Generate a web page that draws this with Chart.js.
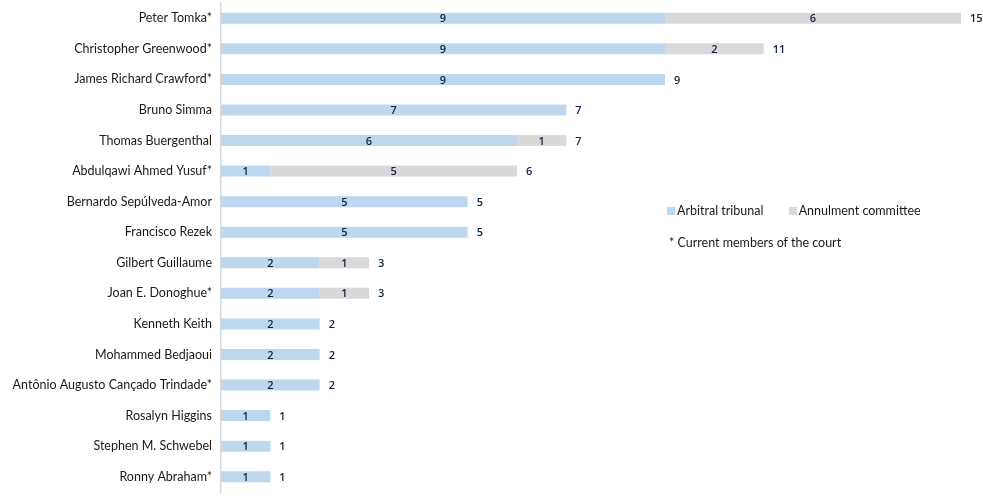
<!DOCTYPE html>
<html>
<head>
<meta charset="utf-8">
<script src="https://cdn.jsdelivr.net/npm/chart.js@4"></script>
<style>
  body { margin: 0; background: #fff; }
  #wrap { position: relative; width: 983px; height: 499px; }
  .legend { position: absolute; font-family: Lato, "Noto Sans", sans-serif; font-size: 12.5px; color: #1a1a1a; }
  .sw { display: inline-block; width: 8px; height: 8px; margin-right: 2px; vertical-align: 0px; }
</style>
</head>
<body>
<div id="wrap">
  <canvas id="myChart" width="983" height="499"></canvas>
  <div class="legend" style="left:667px; top:203px;">
    <span class="sw" style="background:#bdd7ee"></span>Arbitral tribunal
    <span class="sw" style="background:#d9d9d9; margin-left:22px"></span>Annulment committee
  </div>
  <div class="legend" style="left:669px; top:235px;">* Current members of the court</div>
</div>
<script>
// judges, in the order shown (top to bottom)
var judges = [
    'Peter Tomka*', 'Christopher Greenwood*', 'James Richard Crawford*', 'Bruno Simma',
    'Thomas Buergenthal', 'Abdulqawi Ahmed Yusuf*', 'Bernardo Sepúlveda-Amor', 'Francisco Rezek',
    'Gilbert Guillaume', 'Joan E. Donoghue*', 'Kenneth Keith', 'Mohammed Bedjaoui',
    'Antônio Augusto Cançado Trindade*', 'Rosalyn Higgins', 'Stephen M. Schwebel', 'Ronny Abraham*'
];
var arbitral  = [9, 9, 9, 7, 6, 1, 5, 5, 2, 2, 2, 2, 2, 1, 1, 1];
var annulment = [6, 2, 0, 0, 1, 5, 0, 0, 1, 1, 0, 0, 0, 0, 0, 0];

// values inside the bars + totals at the end
var valueLabels = {
    id: 'valueLabels',
    afterDatasetsDraw: function(chart) {
        var ctx = chart.ctx;
        ctx.save();
        ctx.font = '600 11px "Open Sans", sans-serif';
        ctx.fillStyle = '#10213f';
        ctx.textBaseline = 'middle';
        chart.data.datasets.forEach(function(ds, i) {
            var meta = chart.getDatasetMeta(i);
            meta.data.forEach(function(bar, j) {
                if (!ds.data[j]) return;
                ctx.textAlign = 'center';
                ctx.fillText(ds.data[j], (bar.x + bar.base) / 2, bar.y + 1);
            });
        });
        var last = chart.getDatasetMeta(1).data;
        last.forEach(function(bar, j) {
            ctx.textAlign = 'left';
            ctx.fillText(arbitral[j] + annulment[j], bar.x + 9, bar.y + 1);
        });
        ctx.restore();
    }
};

var ctx = document.getElementById('myChart').getContext('2d');
var myChart = new Chart(ctx, {
    type: 'bar',
    data: {
        labels: judges,
        datasets: [{
            label: 'Arbitral tribunal',
            data: arbitral,
            backgroundColor: '#bdd7ee',
            barPercentage: 0.36,
            categoryPercentage: 1
        }, {
            label: 'Annulment committee',
            data: annulment,
            backgroundColor: '#d9d9d9',
            barPercentage: 0.36,
            categoryPercentage: 1
        }]
    },
    options: {
        indexAxis: 'y',
        responsive: false,
        animation: false,
        layout: { padding: { top: 3, bottom: 7, right: 22, left: 0 } },
        plugins: {
            legend: { display: false },
            tooltip: { enabled: false }
        },
        scales: {
            x: {
                stacked: true,
                min: 0,
                max: 15,
                display: false
            },
            y: {
                stacked: true,
                grid: { display: false, drawTicks: false },
                border: { display: true, color: '#d9d9d9', width: 1.5 },
                ticks: {
                    color: '#1a1a1a',
                    padding: 9,
                    font: { family: 'Lato, "Noto Sans", sans-serif', size: 12.5 }
                },
                afterFit: function(scale) {
                    scale.width = 221;
                    scale.paddingTop = 0;
                    scale.paddingBottom = 0;
                }
            }
        }
    },
    plugins: [valueLabels]
});
</script>
</body>
</html>
